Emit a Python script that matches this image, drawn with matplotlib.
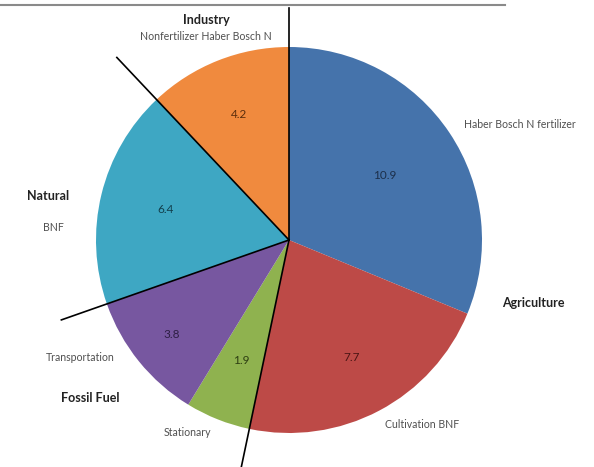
import numpy as np
import matplotlib
matplotlib.use("Agg")
import matplotlib.pyplot as plt
from matplotlib.lines import Line2D

# sources of reactive N (Tg), clockwise from the top
sources = ["Haber Bosch N fertilizer", "Cultivation BNF", "Stationary",
           "Transportation", "BNF", "Nonfertilizer Haber Bosch N"]
values = [10.9, 7.7, 1.9, 3.8, 6.4, 4.2]
colors = ["#4573ab", "#bd4a47", "#8fb24f", "#7757a0", "#3ea7c3", "#f08a3e"]
value_colors = ["#1c2f4a", "#4a1514", "#2d3e12", "#2e1f44", "#123f4c", "#5a2d0c"]

# group titles
groups = ["Industry", "Natural", "Fossil Fuel", "Agriculture"]
# group boundaries: number of slices before the boundary (clockwise from top), and line length
boundaries = [0, 5, 4, 2]
line_lens = [1.20, 1.30, 1.25, 1.21]

plt.rcParams['font.family'] = ['Lato', 'DejaVu Sans']

fig = plt.figure(figsize=(5.94, 4.67), dpi=100)
ax = fig.add_axes([0, 0, 1, 1])

R = 193.0   # pie radius in px
cx, cy = 289.0, 240.0   # pie centre in px (from top-left)


def px(x, y):
    return ((x - cx) / R, (cy - y) / R)


wedges, _ = ax.pie(values, colors=colors, startangle=90, counterclock=False,
                   radius=1.0, wedgeprops=dict(linewidth=0))

# value labels inside the slices
val_dist = [0.60, 0.69, 0.67, 0.78, 0.66, 0.70]
for w, v, d, c in zip(wedges, values, val_dist, value_colors):
    mid = np.deg2rad((w.theta1 + w.theta2) / 2)
    ax.text(d * np.cos(mid), d * np.sin(mid), f"{v}", ha="center", va="center",
            fontsize=8.5, color=c)

# black separator lines between the groups
cum = np.concatenate([[0], np.cumsum(values)]) / sum(values)
for n, L in zip(boundaries, line_lens):
    a = np.deg2rad(90 - 360 * cum[n])
    ax.plot([0, L * np.cos(a)], [0, L * np.sin(a)], color="black", lw=1.2)

# slice names
name_pos = [(520, 125), (422, 425), (187, 433), (80, 358), (53, 228), (206, 37)]
for name, (x, y) in zip(sources, name_pos):
    ax.text(*px(x, y), name, ha="center", va="center", fontsize=7.6, color="#505050")

# group titles
group_pos = [(206, 20), (48, 196), (90, 398), (533, 303)]
for g, (x, y) in zip(groups, group_pos):
    ax.text(*px(x, y), g, ha="center", va="center", fontsize=9,
            fontweight="bold", color="#222222")

ax.set_xlim(-cx / R, (594 - cx) / R)
ax.set_ylim(-(467 - cy) / R, cy / R)
ax.set_aspect("equal")
ax.axis("off")

# grey rule across the top
fig.add_artist(Line2D([0, 505 / 594], [1 - 5 / 467, 1 - 5 / 467], color="#8a8a8a", lw=1.5))

fig.savefig("out.png", dpi=100)
